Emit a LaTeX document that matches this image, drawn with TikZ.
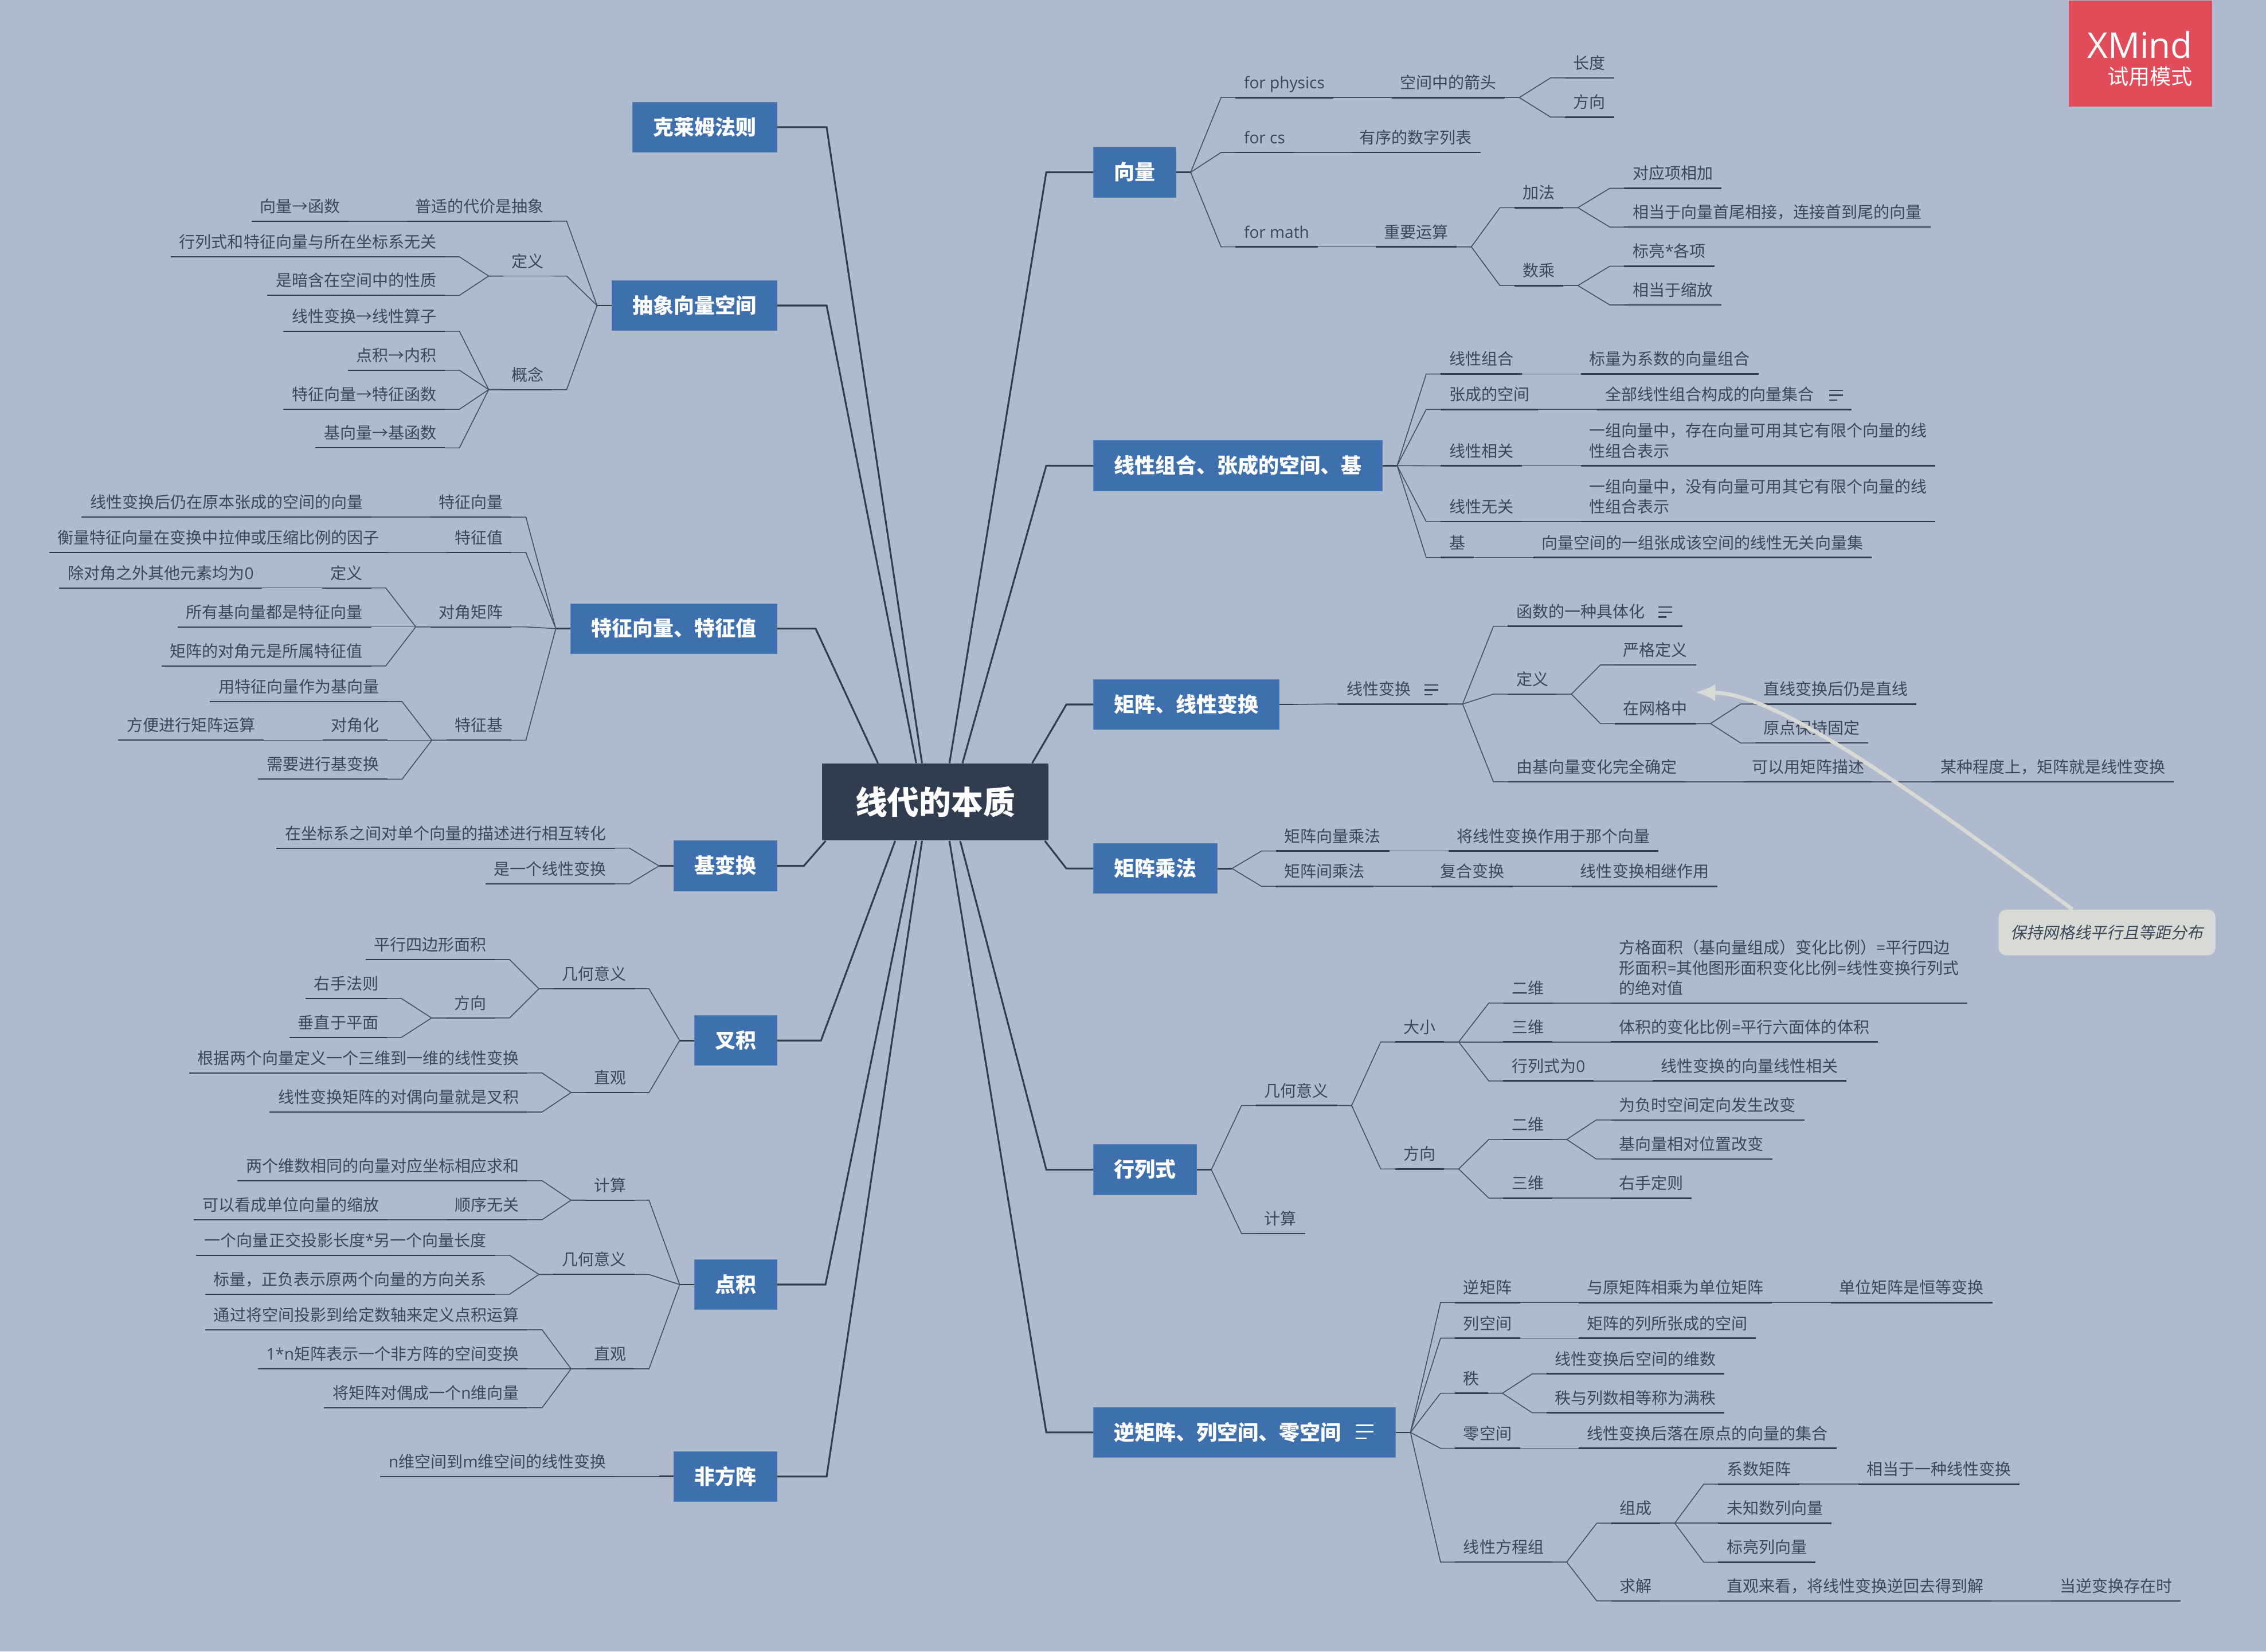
\documentclass[tikz,border=0pt]{standalone}
\usepackage{fontspec}
\setmainfont{Noto Sans CJK SC}
\newfontfamily\latinFont{Open Sans}
\newfontfamily\noteFont[FakeSlant=0.2]{Noto Sans CJK SC}
\usetikzlibrary{arrows.meta}
\definecolor{colorPaper}{HTML}{AEBBCE}
\definecolor{colorRoot}{HTML}{2F3D4F}
\definecolor{colorBranch}{HTML}{3F70AE}
\definecolor{colorText}{HTML}{3A4757}
\definecolor{colorTwig}{HTML}{435163}
\definecolor{colorLogo}{HTML}{E04C59}
\definecolor{colorNote}{HTML}{D8DAD5}
\newcommand\lat[1]{{\latinFont #1}}
\newcommand\twigGap{10}
\newcommand\noteGap{\hspace{0.4cm}}
\newcommand\twigsR[1]{
	\foreach \src/\dst in {#1}{
		\draw[twig] (\src.south east) -- ++(\twigGap,0) -- ([xshift=-0.2cm]\dst.south west) -- (\dst.south west);
	}
}
\newcommand\twigsL[1]{
	\foreach \src/\dst in {#1}{
		\draw[twig] (\src.south west) -- ++(-\twigGap,0) -- ([xshift=0.2cm]\dst.south east) -- (\dst.south east);
	}
}
\newcommand\boxTwigsR[2]{
	\draw[stem] (#1.east) -- ++(\twigGap,0);
	\foreach \dst in {#2}{
		\draw[twig] ([xshift=0.2cm]#1.east) -- ([xshift=-0.2cm]\dst.south west) -- (\dst.south west);
	}
}
\newcommand\boxTwigsL[2]{
	\draw[stem] (#1.west) -- ++(-\twigGap,0);
	\foreach \dst in {#2}{
		\draw[twig] ([xshift=-0.2cm]#1.west) -- ([xshift=0.2cm]\dst.south east) -- (\dst.south east);
	}
}
\newcommand\trunkLink[4]{
	\draw[trunk] ([xshift=#2*0.02cm]rootNode.#1) -- (#3,0 |- #4) -- (#4);
}
\newcommand\noteIcon[3]{
	\foreach \i/\w in {0/1,1/1,2/0.6}{
		\draw[color=#3, line width=#2*0.05pt] #1 ++(0,\i*#2*0.36) -- ++(\w*#2,0);
	}
}
\tikzset{
	topic/.style={font=\fontsize{6.33}{7.95}\selectfont, text=colorText, inner xsep=0.11cm, inner ysep=0.06cm, text height=5.6pt, text depth=1.6pt, align=left},
	topicR/.style={topic, anchor=south west, xshift=-0.012cm, append after command={(\tikzlastnode.south west) edge[line width=0.6pt, color=colorRoot] (\tikzlastnode.south east)}},
	topicL/.style={topic, anchor=south east, xshift=0.012cm, append after command={(\tikzlastnode.south west) edge[line width=0.42pt, color=colorRoot] (\tikzlastnode.south east)}},
	twig/.style={line width=0.36pt, color=colorTwig},
	stem/.style={line width=0.6pt, color=colorRoot},
	trunk/.style={line width=0.7pt, color=colorRoot},
	branchBox/.style={fill=colorBranch, draw=colorBranch!88!white, line width=0.2pt, text=white, font=\fontsize{8.13}{10}\selectfont\bfseries, inner xsep=0.285cm, inner ysep=0pt, minimum height=0.694cm, text height=7pt, text depth=1pt},
	branchR/.style={branchBox, anchor=west},
	branchL/.style={branchBox, anchor=east}
}
\begin{document}
\begin{tikzpicture}[x=0.02cm,y=-0.02cm]
	\fill[colorPaper] (0,0) rectangle (1568,1142.8);
	\useasboundingbox (0,0) rectangle (1568,1142.8);

	\node[fill=colorRoot, text=white, font=\fontsize{12.6}{15}\selectfont\bfseries, minimum width=3.136cm, minimum height=1.062cm, inner sep=0pt] (rootNode) at (647.2,555) {线代的本质};

	% main branches
	\node[branchR] (vecBox) at (756.5,119.2) {向量};
	\node[branchR] (combBox) at (756.5,322.2) {线性组合、张成的空间、基};
	\node[branchR] (mapBox) at (756.5,487.5) {矩阵、线性变换};
	\node[branchR] (multBox) at (756.5,601) {矩阵乘法};
	\node[branchR] (detBox) at (756.5,809.4) {行列式};
	\node[branchR] (invBox) at (756.5,991.2) {逆矩阵、列空间、零空间\hspace*{0.47cm}\null};
	\node[branchL] (kramerBox) at (537.7,88) {克莱姆法则};
	\node[branchL] (absBox) at (537.7,211.4) {抽象向量空间};
	\node[branchL] (eigBox) at (537.7,435) {特征向量、特征值};
	\node[branchL] (baseBox) at (537.7,599.2) {基变换};
	\node[branchL] (crossBox) at (537.7,720) {叉积};
	\node[branchL] (dotBox) at (537.7,888.9) {点积};
	\node[branchL] (nonBox) at (537.7,1021.7) {非方阵};

	\trunkLink{north}{-9.2}{572}{kramerBox.east}
	\trunkLink{north}{-13.2}{572}{absBox.east}
	\trunkLink{north}{-39.7}{564.4}{eigBox.east}
	\trunkLink{south}{-75.9}{556.2}{baseBox.east}
	\trunkLink{south}{-27.8}{568.1}{crossBox.east}
	\trunkLink{south}{-13.2}{571.2}{dotBox.east}
	\trunkLink{south}{-9.2}{572}{nonBox.east}
	\trunkLink{north}{9.8}{724}{vecBox.west}
	\trunkLink{north}{18.8}{724}{combBox.west}
	\trunkLink{north}{67}{737.9}{mapBox.west}
	\trunkLink{south}{75.8}{737.9}{multBox.west}
	\trunkLink{south}{17.2}{724}{detBox.west}
	\trunkLink{south}{9.8}{724}{invBox.west}

	% vectors
	\node[topicR] (vecPhysics) at (855.5,67.5) {\lat{for physics}};
	\node[topicR] (vecArrow) at (963.5,67.5) {空间中的箭头};
	\node[topicR] (vecLength) at (1083.5,53.9) {长度};
	\node[topicR] (vecDirection) at (1083.5,81) {方向};
	\node[topicR] (vecCs) at (855.5,105.5) {\lat{for cs}};
	\node[topicR] (vecList) at (935.5,105.5) {有序的数字列表};
	\node[topicR] (vecMath) at (855.5,170.8) {\lat{for math}};
	\node[topicR] (vecOps) at (952.5,170.8) {重要运算};
	\node[topicR] (vecAdd) at (1048.5,143.7) {加法};
	\node[topicR] (vecScale) at (1048.5,197.6) {数乘};
	\node[topicR] (addTerm) at (1124.5,130.3) {对应项相加};
	\node[topicR] (addChain) at (1124.5,157.1) {相当于向量首尾相接，连接首到尾的向量};
	\node[topicR] (scaleTerm) at (1124.5,184.2) {标亮\lat{*}各项};
	\node[topicR] (scaleShrink) at (1124.5,211) {相当于缩放};
	\boxTwigsR{vecBox}{vecPhysics,vecCs,vecMath}
	\twigsR{vecPhysics/vecArrow,vecArrow/vecLength,vecArrow/vecDirection,vecCs/vecList,vecMath/vecOps,vecOps/vecAdd,vecOps/vecScale,vecAdd/addTerm,vecAdd/addChain,vecScale/scaleTerm,vecScale/scaleShrink}

	% combinations
	\node[topicR] (combLinear) at (997.5,258.8) {线性组合};
	\node[topicR] (combLinearText) at (1094.5,258.8) {标量为系数的向量组合};
	\node[topicR] (combSpan) at (997.5,283.3) {张成的空间};
	\node[topicR] (combSpanText) at (1105.5,283.3) {全部线性组合构成的向量集合\noteGap};
	\node[topicR] (combDep) at (997.5,322.3) {线性相关};
	\node[topicR] (combDepText) at (1094.5,322.3) {一组向量中，存在向量可用其它有限个向量的线\\性组合表示};
	\node[topicR] (combInd) at (997.5,361) {线性无关};
	\node[topicR] (combIndText) at (1094.5,361) {一组向量中，没有向量可用其它有限个向量的线\\性组合表示};
	\node[topicR] (combBase) at (997.5,385.8) {基};
	\node[topicR] (combBaseText) at (1061.5,385.8) {向量空间的一组张成该空间的线性无关向量集};
	\boxTwigsR{combBox}{combLinear,combSpan,combDep,combInd,combBase}
	\twigsR{combLinear/combLinearText,combSpan/combSpanText,combDep/combDepText,combInd/combIndText,combBase/combBaseText}
	\noteIcon{([xshift=-0.31cm,yshift=0.265cm]combSpanText.south east)}{9.5}{colorText}

	% linear maps
	\node[topicR] (mapNode) at (926.5,487.2) {线性变换\noteGap};
	\node[topicR] (mapFunc) at (1044,433.4) {函数的一种具体化\noteGap};
	\node[topicR] (mapDef) at (1044,480.3) {定义};
	\node[topicR] (mapStrict) at (1118,460.1) {严格定义};
	\node[topicR] (mapGrid) at (1118,500.7) {在网格中};
	\node[topicR] (mapStraight) at (1215,487.2) {直线变换后仍是直线};
	\node[topicR] (mapOrigin) at (1215,514.1) {原点保持固定};
	\node[topicR] (mapBasis) at (1044,541) {由基向量变化完全确定};
	\node[topicR] (mapDescribe) at (1207.1,541) {可以用矩阵描述};
	\node[topicR] (mapMatrix) at (1337.5,541) {某种程度上，矩阵就是线性变换};
	\boxTwigsR{mapBox}{mapNode}
	\twigsR{mapNode/mapFunc,mapNode/mapDef,mapNode/mapBasis,mapDef/mapStrict,mapDef/mapGrid,mapGrid/mapStraight,mapGrid/mapOrigin,mapBasis/mapDescribe,mapDescribe/mapMatrix}
	\noteIcon{([xshift=-0.33cm,yshift=0.265cm]mapNode.south east)}{9.5}{colorText}
	\noteIcon{([xshift=-0.33cm,yshift=0.265cm]mapFunc.south east)}{9.5}{colorText}

	% matrix products
	\node[topicR] (multVec) at (883.5,588.9) {矩阵向量乘法};
	\node[topicR] (multVecText) at (1003,588.9) {将线性变换作用于那个向量};
	\node[topicR] (multMat) at (883.5,613.3) {矩阵间乘法};
	\node[topicR] (multCompose) at (991.3,613.3) {复合变换};
	\node[topicR] (multChain) at (1088.3,613.3) {线性变换相继作用};
	\boxTwigsR{multBox}{multVec,multMat}
	\twigsR{multVec/multVecText,multMat/multCompose,multCompose/multChain}

	% determinants
	\node[topicR] (detGeo) at (869.7,765) {几何意义};
	\node[topicR] (detCalc) at (869.7,853.6) {计算};
	\node[topicR] (detSize) at (966,721) {大小};
	\node[topicR] (detDir) at (966,808.9) {方向};
	\node[topicR] (sizeTwo) at (1040.8,694.1) {二维};
	\node[topicR] (sizeTwoText) at (1115.1,694.1) {方格面积（基向量组成）变化比例）\lat{=}平行四边\\形面积\lat{=}其他图形面积变化比例\lat{=}线性变换行列式\\的绝对值};
	\node[topicR] (sizeThree) at (1040.8,721) {三维};
	\node[topicR] (sizeThreeText) at (1115.1,721) {体积的变化比例\lat{=}平行六面体的体积};
	\node[topicR] (sizeZero) at (1040.8,748) {行列式为\lat{0}};
	\node[topicR] (sizeZeroText) at (1144.2,748) {线性变换的向量线性相关};
	\node[topicR] (dirTwo) at (1040.8,788.5) {二维};
	\node[topicR] (dirNeg) at (1115.1,775) {为负时空间定向发生改变};
	\node[topicR] (dirBasis) at (1115.1,802) {基向量相对位置改变};
	\node[topicR] (dirThree) at (1040.8,829.1) {三维};
	\node[topicR] (dirRight) at (1115.1,829.1) {右手定则};
	\boxTwigsR{detBox}{detGeo,detCalc}
	\twigsR{detGeo/detSize,detGeo/detDir,detSize/sizeTwo,detSize/sizeThree,detSize/sizeZero,sizeTwo/sizeTwoText,sizeThree/sizeThreeText,sizeZero/sizeZeroText,detDir/dirTwo,detDir/dirThree,dirTwo/dirNeg,dirTwo/dirBasis,dirThree/dirRight}

	% inverses
	\node[topicR] (invMat) at (1007.4,901.3) {逆矩阵};
	\node[topicR] (invMatText) at (1092.8,901.3) {与原矩阵相乘为单位矩阵};
	\node[topicR] (invUnit) at (1267.4,901.3) {单位矩阵是恒等变换};
	\node[topicR] (invCol) at (1007.4,926) {列空间};
	\node[topicR] (invColText) at (1092.8,926) {矩阵的列所张成的空间};
	\node[topicR] (invRank) at (1007.4,964.1) {秩};
	\node[topicR] (rankDim) at (1070.8,950.7) {线性变换后空间的维数};
	\node[topicR] (rankFull) at (1070.8,977.6) {秩与列数相等称为满秩};
	\node[topicR] (invNull) at (1007.4,1002.2) {零空间};
	\node[topicR] (invNullText) at (1092.8,1002.2) {线性变换后落在原点的向量的集合};
	\node[topicR] (invSys) at (1007.4,1080.9) {线性方程组};
	\node[topicR] (sysPart) at (1115.5,1054) {组成};
	\node[topicR] (sysSolve) at (1115.5,1107.8) {求解};
	\node[topicR] (partCoef) at (1189.5,1027) {系数矩阵};
	\node[topicR] (partCoefText) at (1286.4,1027) {相当于一种线性变换};
	\node[topicR] (partUnknown) at (1189.5,1054) {未知数列向量};
	\node[topicR] (partTarget) at (1189.5,1081) {标亮列向量};
	\node[topicR] (solveView) at (1189.5,1107.8) {直观来看，将线性变换逆回去得到解};
	\node[topicR] (solveWhen) at (1420,1107.8) {当逆变换存在时};
	\boxTwigsR{invBox}{invMat,invCol,invRank,invNull,invSys}
	\twigsR{invMat/invMatText,invMatText/invUnit,invCol/invColText,invRank/rankDim,invRank/rankFull,invNull/invNullText,invSys/sysPart,invSys/sysSolve,sysPart/partCoef,sysPart/partUnknown,sysPart/partTarget,partCoef/partCoefText,sysSolve/solveView,solveView/solveWhen}
	\noteIcon{([xshift=-0.56cm,yshift=0.1cm]invBox.east)}{12.5}{white}

	% abstract spaces
	\node[topicL] (absCost) at (381.5,153) {普适的代价是抽象};
	\node[topicL] (absCostText) at (240.7,153) {向量→函数};
	\node[topicL] (absDef) at (381.5,191) {定义};
	\node[topicL] (defCoord) at (307.3,177.7) {行列式和特征向量与所在坐标系无关};
	\node[topicL] (defHidden) at (307.3,204.4) {是暗含在空间中的性质};
	\node[topicL] (absIdea) at (381.5,269.6) {概念};
	\node[topicL] (ideaMap) at (307.3,229.2) {线性变换→线性算子};
	\node[topicL] (ideaDot) at (307.3,256.2) {点积→内积};
	\node[topicL] (ideaEig) at (307.3,283.2) {特征向量→特征函数};
	\node[topicL] (ideaBase) at (307.3,309.9) {基向量→基函数};
	\boxTwigsL{absBox}{absCost,absDef,absIdea}
	\twigsL{absCost/absCostText,absDef/defCoord,absDef/defHidden,absIdea/ideaMap,absIdea/ideaDot,absIdea/ideaEig,absIdea/ideaBase}

	% eigenvectors
	\node[topicL] (eigVec) at (353.3,357.8) {特征向量};
	\node[topicL] (eigVecText) at (256.6,357.8) {线性变换后仍在原本张成的空间的向量};
	\node[topicL] (eigVal) at (353.3,382.3) {特征值};
	\node[topicL] (eigValText) at (267.6,382.3) {衡量特征向量在变换中拉伸或压缩比例的因子};
	\node[topicL] (eigDiag) at (353.3,433.8) {对角矩阵};
	\node[topicL] (diagDef) at (256.3,406.8) {定义};
	\node[topicL] (diagDefText) at (180.8,406.8) {除对角之外其他元素均为\lat{0}};
	\node[topicL] (diagAll) at (256.3,433.8) {所有基向量都是特征向量};
	\node[topicL] (diagEntry) at (256.3,460.8) {矩阵的对角元是所属特征值};
	\node[topicL] (eigBasis) at (353.3,512.2) {特征基};
	\node[topicL] (basisUse) at (267.6,485.5) {用特征向量作为基向量};
	\node[topicL] (basisDiag) at (267.6,512.2) {对角化};
	\node[topicL] (basisCalc) at (181.9,512.2) {方便进行矩阵运算};
	\node[topicL] (basisNeed) at (267.6,539.2) {需要进行基变换};
	\boxTwigsL{eigBox}{eigVec,eigVal,eigDiag,eigBasis}
	\twigsL{eigVec/eigVecText,eigVal/eigValText,eigDiag/diagDef,eigDiag/diagAll,eigDiag/diagEntry,diagDef/diagDefText,eigBasis/basisUse,eigBasis/basisDiag,eigBasis/basisNeed,basisDiag/basisCalc}

	% change of basis
	\node[topicL] (baseConv) at (424.9,586.9) {在坐标系之间对单个向量的描述进行相互转化};
	\node[topicL] (baseLinear) at (424.9,611.6) {是一个线性变换};
	\boxTwigsL{baseBox}{baseConv,baseLinear}

	% cross product
	\node[topicL] (crossGeo) at (438.5,684.2) {几何意义};
	\node[topicL] (crossArea) at (342,664) {平行四边形面积};
	\node[topicL] (crossDir) at (342,704.4) {方向};
	\node[topicL] (crossRight) at (267.1,690.9) {右手法则};
	\node[topicL] (crossPerp) at (267.1,717.9) {垂直于平面};
	\node[topicL] (crossSee) at (438.5,756) {直观};
	\node[topicL] (crossDual) at (364.5,742.5) {根据两个向量定义一个三维到一维的线性变换};
	\node[topicL] (crossMat) at (364.5,769.5) {线性变换矩阵的对偶向量就是叉积};
	\boxTwigsL{crossBox}{crossGeo,crossSee}
	\twigsL{crossGeo/crossArea,crossGeo/crossDir,crossDir/crossRight,crossDir/crossPerp,crossSee/crossDual,crossSee/crossMat}

	% dot product
	\node[topicL] (dotCalc) at (438.5,830.5) {计算};
	\node[topicL] (dotSum) at (364.5,817) {两个维数相同的向量对应坐标相应求和};
	\node[topicL] (dotOrder) at (364.5,844) {顺序无关};
	\node[topicL] (dotUnit) at (267.7,844) {可以看成单位向量的缩放};
	\node[topicL] (dotGeo) at (438.5,881.9) {几何意义};
	\node[topicL] (dotProj) at (342,868.6) {一个向量正交投影长度\lat{*}另一个向量长度};
	\node[topicL] (dotSign) at (342,895.6) {标量，正负表示原两个向量的方向关系};
	\node[topicL] (dotSee) at (438.5,947.2) {直观};
	\node[topicL] (dotAxis) at (364.5,920.2) {通过将空间投影到给定数轴来定义点积运算};
	\node[topicL] (dotOne) at (364.5,947.2) {\lat{1*n}矩阵表示一个非方阵的空间变换};
	\node[topicL] (dotPair) at (364.5,974.1) {将矩阵对偶成一个\lat{n}维向量};
	\boxTwigsL{dotBox}{dotCalc,dotGeo,dotSee}
	\twigsL{dotCalc/dotSum,dotCalc/dotOrder,dotOrder/dotUnit,dotGeo/dotProj,dotGeo/dotSign,dotSee/dotAxis,dotSee/dotOne,dotSee/dotPair}

	% non-square
	\node[topicL] (nonMap) at (424.9,1021.7) {\lat{n}维空间到\lat{m}维空间的线性变换};
	\boxTwigsL{nonBox}{nonMap}

	% remark on the grid
	\node[fill=colorNote, rounded corners=0.1cm, text=colorText, font=\fontsize{6.33}{8}\selectfont\noteFont, minimum width=3.0cm, minimum height=0.63cm, inner sep=0pt] (noteBox) at (1458,645.3) {保持网格线平行且等距分布};
	\coordinate (gridTip) at (1173,479);
	\draw[color=colorNote, line width=1.5pt, -{Latex[length=0.28cm,width=0.24cm]}] ([xshift=-0.48cm]noteBox.north) .. controls (1320,545) and (1230,480) .. (gridTip);

	% trial badge
	\node[fill=colorLogo, anchor=north west, minimum width=1.984cm, minimum height=1.468cm, inner sep=0pt] (logoBox) at (1431,0) {};
	\node[text=white, font=\fontsize{14}{16}\selectfont\latinFont, anchor=east, inner sep=0pt] (logoName) at (1517.5,31) {XMind};
	\node[text=white, font=\fontsize{8.4}{10}\selectfont, anchor=east, inner sep=0pt] (logoMode) at (1517.5,53) {试用模式};
\end{tikzpicture}
\end{document}
